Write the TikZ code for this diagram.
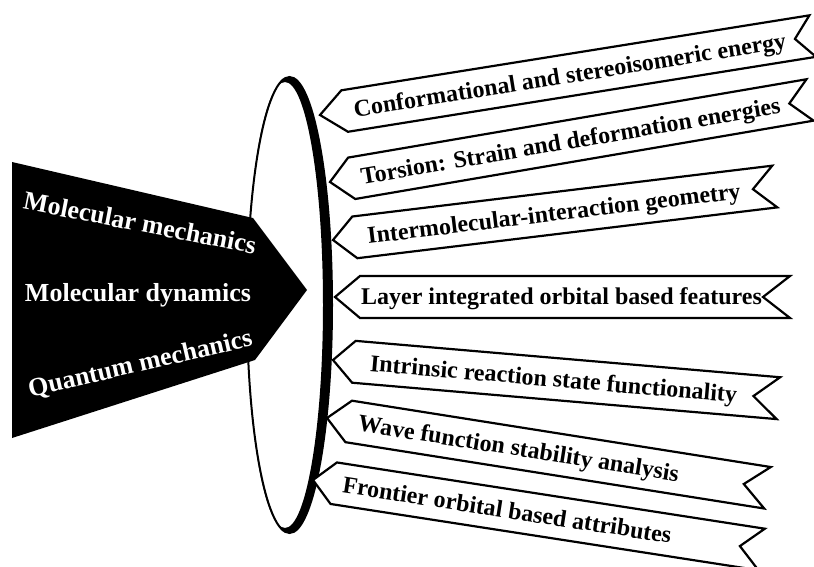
\documentclass[tikz,border=0pt]{standalone}
\usepackage{fontspec}
\setmainfont{Liberation Serif}
\begin{document}
\begin{tikzpicture}[x=1pt,y=-1pt,
  ribbonline/.style={draw=black,line width=2.2pt,fill=white,line join=miter},
  ribbontext/.style={font=\fontsize{24}{28}\selectfont\bfseries,text=black,inner sep=0pt,
     text height=15.9pt,text depth=0pt,anchor=center,transform shape},
  lefttext/.style={font=\fontsize{26}{30}\selectfont\bfseries,text=white,inner sep=0pt,
     text height=17.2pt,text depth=0pt,anchor=center}]
\useasboundingbox (0,0) rectangle (814,567);
\clip (0,0) rectangle (814,567);
\fill[white] (0,0) rectangle (814,567);
% ring
\draw[line width=2pt] (289.5,305) ellipse [x radius=42.5, y radius=228];
\fill[black,even odd rule] (289.5,305) ellipse [x radius=42.5, y radius=228]
   (285,305) ellipse [x radius=38, y radius=223];
% black arrow block
\fill[black] (12,162) -- (253,218) -- (307,290) -- (255,360) -- (12,438) -- cycle;
\node[lefttext,rotate=-11] (mm) at (140,223) {Molecular mechanics};
\node[lefttext] (md) at (138,293) {Molecular dynamics};
\node[lefttext,rotate=13] (qm) at (140,363) {Quantum mechanics};
% ribbons: name, tipx, tipy, angle, length, tip depth, notch depth, text offset, text
\newcommand{\rbnband}[9]{%
  \begin{scope}[shift={(#2,#3)},rotate=#4]
    \draw[ribbonline] (0,0) -- (#6,-21) -- (#5,-21) -- ({#5-#7},0) -- (#5,21) -- (#6,21) -- cycle;
    \node[ribbontext] (#1) at ({(#6+#5-#7)/2+#8},0) {#9};
  \end{scope}}
\rbnband{r1}{320}{115}{9.1}{499}{25}{18}{0}{Conformational and stereoisomeric energy}
\rbnband{r2}{330}{182}{9.7}{487}{22}{21}{0}{Torsion: Strain and deformation energies}
\rbnband{r3}{333}{240}{6.9}{445}{22}{22}{0}{Intermolecular-interaction geometry}
\rbnband{r4}{335}{297}{0}{455}{25}{27}{0}{Layer integrated orbital based features}
\rbnband{r5}{333}{360}{-4.9}{447}{21}{25}{0}{Intrinsic reaction state functionality}
\rbnband{r6}{327}{418}{-9.0}{446}{22}{24}{-28}{Wave function stability analysis}
\rbnband{r7}{313}{480}{-8.8}{454}{21}{22}{-30}{Frontier orbital based attributes}
\end{tikzpicture}
\end{document}
